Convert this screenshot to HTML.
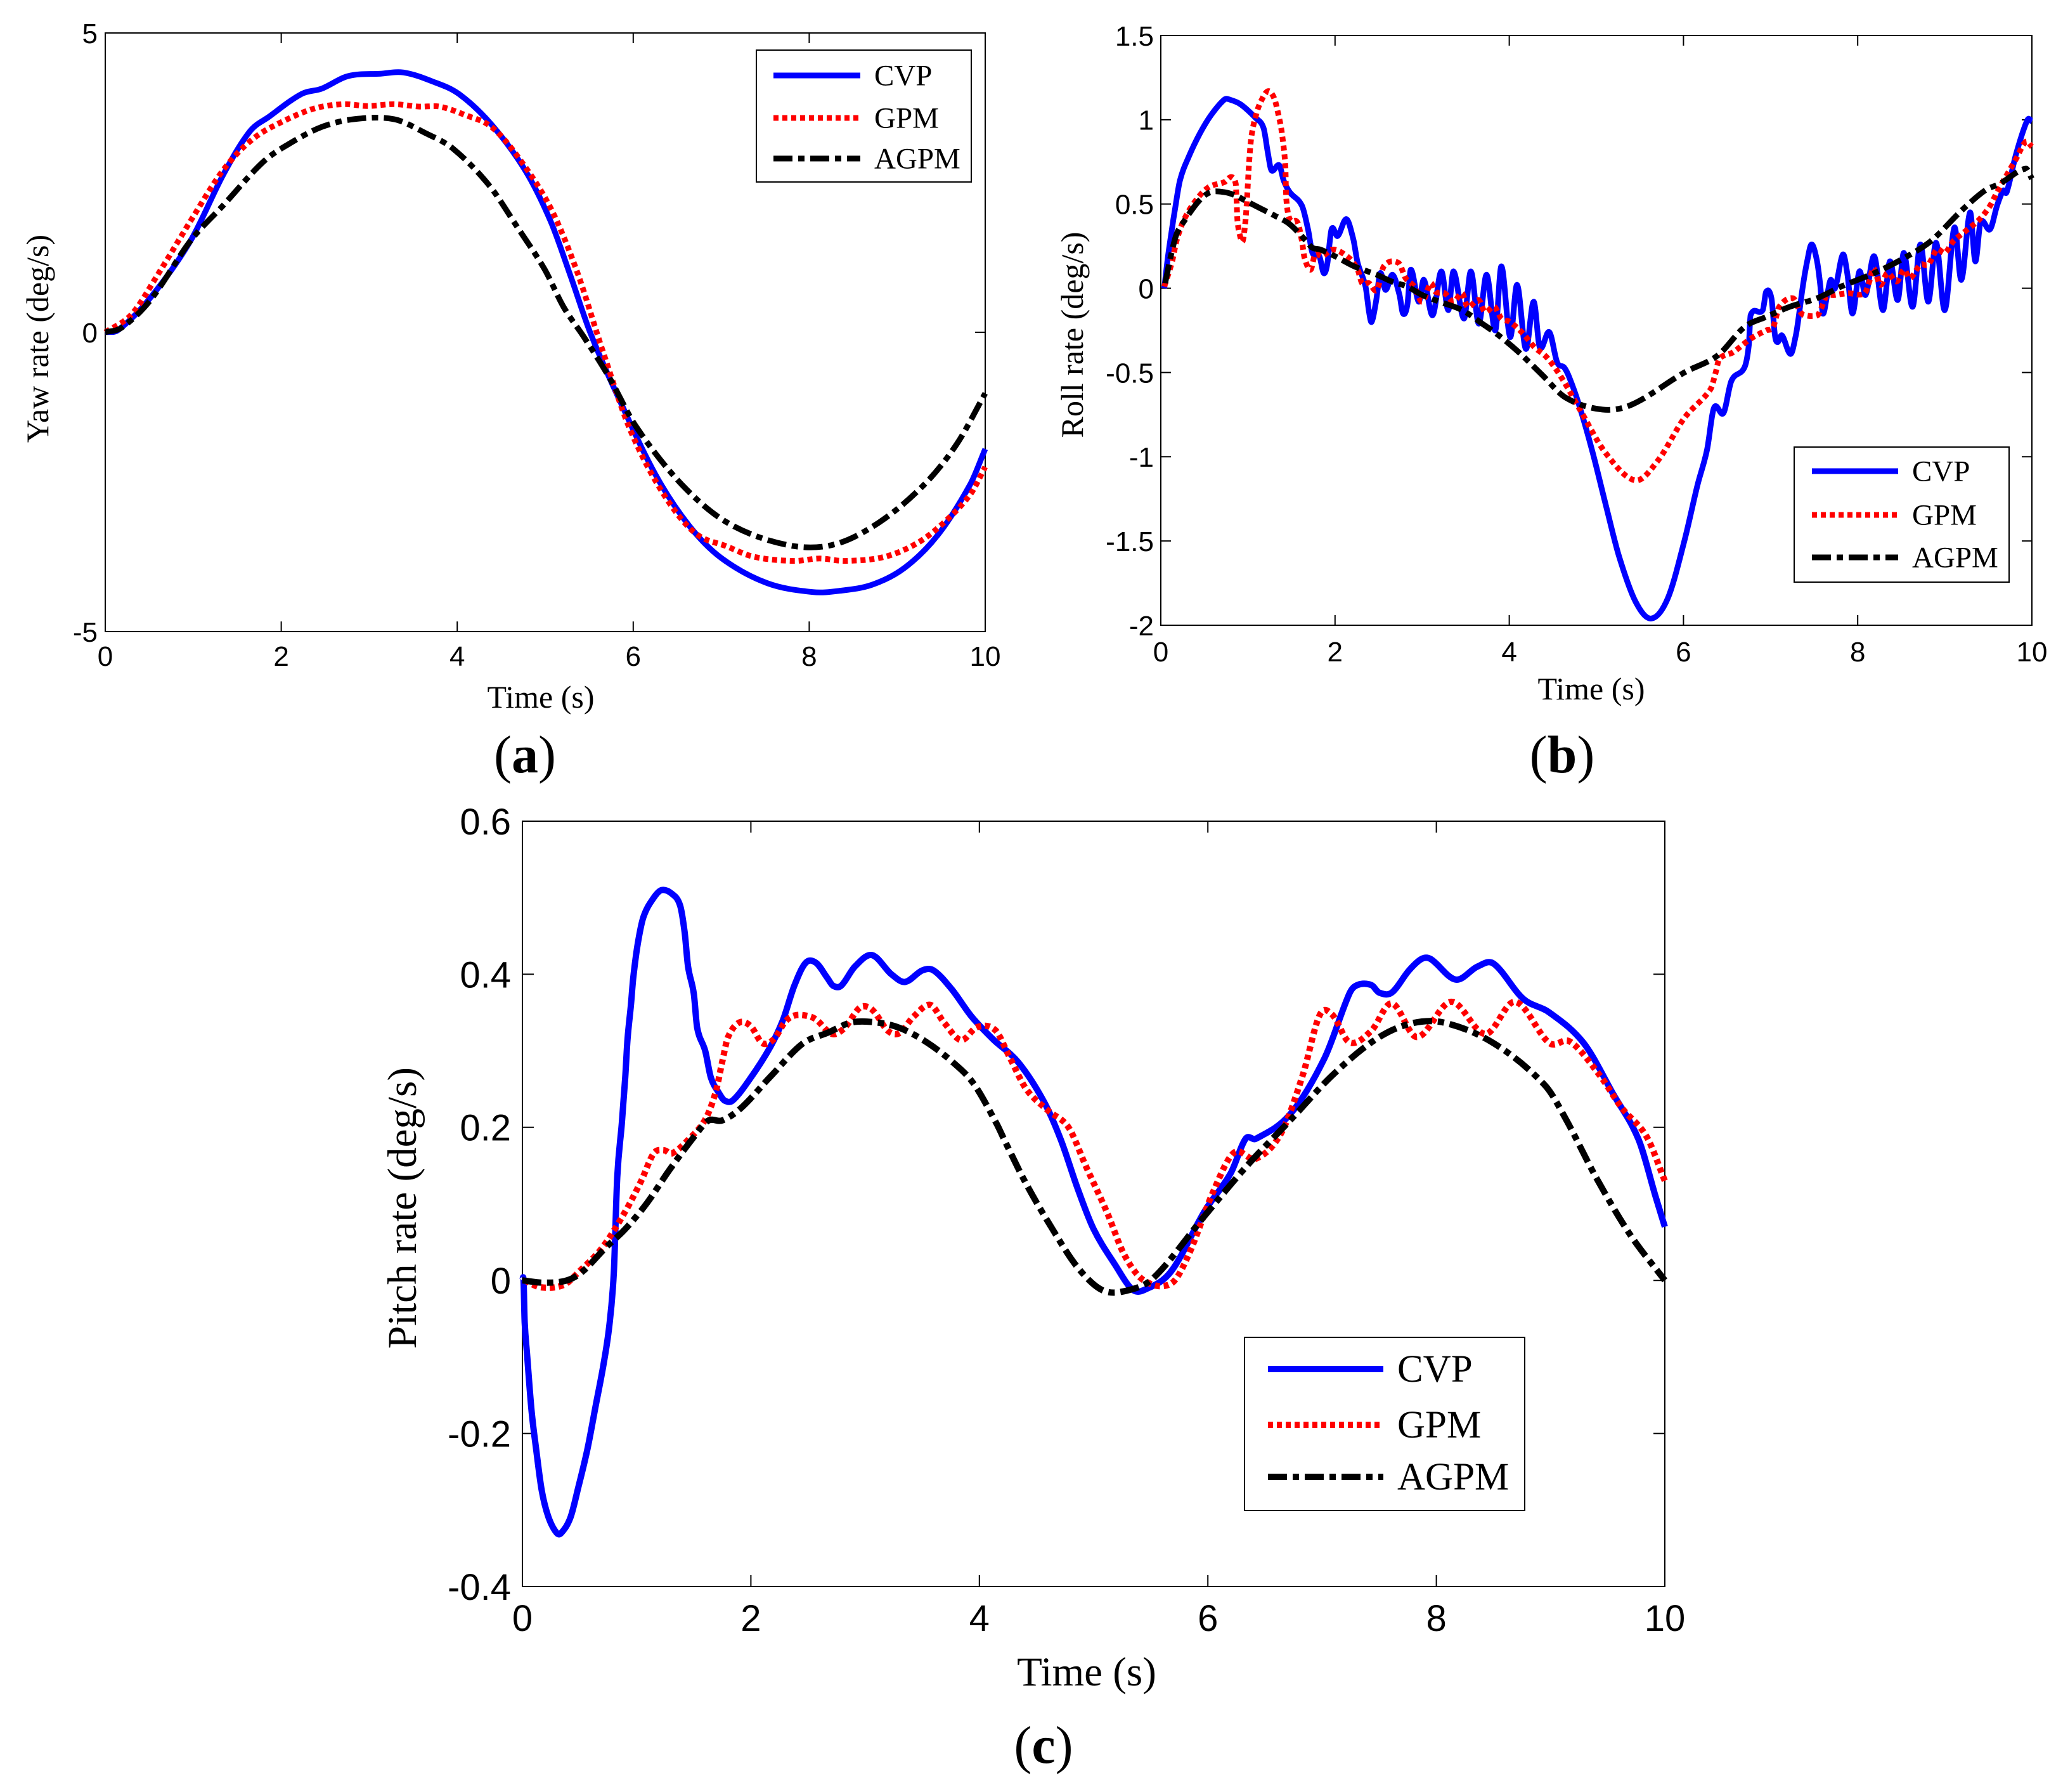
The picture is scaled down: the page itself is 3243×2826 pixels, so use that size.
<!DOCTYPE html>
<html lang="en">
<head>
<meta charset="utf-8">
<title>Yaw, roll and pitch rate comparison</title>
<style>
html,body{margin:0;padding:0;background:#fff;}
svg{display:block;}
text{fill:#000;}
</style>
</head>
<body>
<svg id="figure" xmlns="http://www.w3.org/2000/svg" width="3243" height="2826" viewBox="0 0 3243 2826"></svg>
<script>
const xTicks = [0, 2, 4, 6, 8, 10];
const yTicksA = [-5, 0, 5];
const yTickLabelsA = ['-5', '0', '5'];
const yTicksB = [-2, -1.5, -1, -0.5, 0, 0.5, 1, 1.5];
const yTickLabelsB = ['-2', '-1.5', '-1', '-0.5', '0', '0.5', '1', '1.5'];
const yTicksC = [-0.4, -0.2, 0, 0.2, 0.4, 0.6];
const yTickLabelsC = ['-0.4', '-0.2', '0', '0.2', '0.4', '0.6'];
const seriesNames = ['CVP', 'GPM', 'AGPM'];

const aCvpT = [0,.15,.52,.97,1.34,1.64,1.86,2.23,2.46,2.76,3.13,3.39,3.72,4.02,4.39,4.77,5.06,5.29,5.51,5.81,6.25,6.63,7.0,7.52,8.04,8.34,8.71,9.08,9.46,9.83,10];
const aCvpV = [0,.04,.59,1.53,2.63,3.35,3.6,3.98,4.07,4.28,4.32,4.34,4.19,3.98,3.47,2.71,1.86,.93,0,-1.02,-2.37,-3.22,-3.77,-4.19,-4.34,-4.32,-4.22,-3.94,-3.39,-2.54,-1.95];
const aGpmT = [0,.30,.60,.97,1.34,1.67,2.0,2.38,2.71,2.98,3.28,3.57,3.8,4.09,4.39,4.69,5.06,5.36,5.66,5.96,6.33,6.7,7.07,7.37,7.82,8.12,8.41,8.86,9.23,9.53,9.83,10];
const aGpmV = [0,.30,.97,1.86,2.71,3.22,3.51,3.74,3.81,3.78,3.81,3.77,3.77,3.63,3.43,2.93,2.08,1.02,-.34,-1.61,-2.67,-3.35,-3.58,-3.75,-3.82,-3.78,-3.82,-3.75,-3.52,-3.18,-2.71,-2.25];
const aAgpmT = [0,.19,.52,.97,1.34,1.79,2.08,2.46,2.83,3.28,3.65,3.95,4.36,4.69,4.99,5.21,5.44,5.73,6.03,6.55,7.07,7.74,8.27,8.79,9.31,9.68,10];
const aAgpmV = [0,.08,.55,1.53,2.12,2.84,3.14,3.43,3.56,3.56,3.32,3.07,2.46,1.74,1.06,.42,-.08,-.76,-1.57,-2.54,-3.18,-3.55,-3.55,-3.18,-2.54,-1.86,-1.02];

const bCvpT = [.04,.08,.13,.16,.22,.32,.45,.58,.73,.79,.92,1.09,1.18,1.23,1.27,1.36,1.41,1.48,1.62,1.69,1.74,1.82,1.87,1.91,1.96,2.03,2.13,2.21,2.26,2.35,2.39,2.42,2.47,2.52,2.58,2.66,2.74,2.78,2.83,2.87,2.96,3.02,3.12,3.22,3.30,3.36,3.48,3.56,3.65,3.74,3.84,3.91,4.01,4.09,4.19,4.28,4.35,4.46,4.55,4.63,4.69,4.80,4.95,5.11,5.26,5.45,5.63,5.82,6.01,6.16,6.27,6.35,6.46,6.55,6.70,6.75,6.77,6.91,6.95,7.01,7.05,7.08,7.13,7.23,7.29,7.32,7.37,7.42,7.47,7.53,7.57,7.60,7.65,7.69,7.74,7.83,7.88,7.94,8.02,8.09,8.19,8.29,8.37,8.46,8.53,8.63,8.72,8.81,8.90,9.0,9.11,9.19,9.29,9.35,9.41,9.52,9.60,9.67,9.71,9.82,9.95,10];
const bCvpV = [0,.18,.36,.46,.64,.78,.92,1.03,1.12,1.12,1.09,1.01,.95,.80,.70,.73,.64,.57,.49,.35,.21,.19,.09,.14,.35,.31,.41,.29,.15,.01,-.14,-.20,-.08,.09,-.01,.08,-.04,-.15,-.10,.11,-.08,.05,-.16,.10,-.13,.10,-.18,.10,-.21,.08,-.25,.13,-.29,.02,-.36,-.08,-.35,-.26,-.44,-.47,-.53,-.69,-.96,-1.29,-1.59,-1.86,-1.96,-1.84,-1.5,-1.17,-.96,-.71,-.74,-.55,-.47,-.34,-.16,-.13,-.02,-.06,-.28,-.32,-.28,-.39,-.28,-.18,.01,.16,.26,.17,.02,-.15,-.04,.05,0,.2,.09,-.15,.10,-.04,.19,-.13,.16,-.07,.21,-.11,.26,-.08,.27,-.13,.36,.05,.45,.16,.39,.35,.49,.58,.57,.8,1.0,.99];
const bGpmT = [.04,.13,.18,.26,.40,.55,.73,.81,.86,.87,.88,.91,.94,.97,.99,1.01,1.04,1.10,1.15,1.23,1.30,1.35,1.39,1.43,1.44,1.48,1.57,1.62,1.65,1.72,1.77,1.85,1.98,2.16,2.26,2.31,2.39,2.48,2.56,2.73,2.81,2.91,3.0,3.1,3.15,3.26,3.36,3.46,3.52,3.65,3.72,3.83,3.91,4.01,4.16,4.29,4.43,4.6,4.80,5.11,5.45,5.71,6.01,6.31,6.37,6.41,6.57,6.77,6.95,7.03,7.10,7.26,7.34,7.39,7.54,7.58,7.64,7.74,7.89,8.08,8.14,8.18,8.26,8.34,8.45,8.53,8.6,8.72,8.81,8.91,9.0,9.1,9.24,9.4,9.52,9.6,9.82,9.93,10];
const bGpmV = [.01,.16,.28,.40,.52,.60,.63,.66,.62,.52,.40,.31,.28,.39,.53,.72,.90,1.04,1.11,1.17,1.13,1.03,.92,.72,.53,.41,.39,.28,.18,.11,.20,.19,.23,.18,.11,.03,.03,-.01,.13,.15,.06,.01,-.08,.03,-.02,-.03,-.08,-.03,-.11,-.07,-.14,-.11,-.18,-.2,-.27,-.35,-.41,-.53,-.71,-.98,-1.14,-1.02,-.77,-.6,-.50,-.42,-.38,-.30,-.25,-.23,-.11,-.06,-.14,-.16,-.16,-.12,-.05,-.04,-.03,-.03,.05,.12,.02,.09,.04,.11,.06,.14,.14,.23,.21,.28,.34,.41,.49,.57,.77,.87,.84];
const bAgpmT = [.05,.11,.18,.27,.44,.57,.73,.86,.97,1.12,1.31,1.48,1.67,1.74,1.83,2.0,2.22,2.48,2.65,2.83,3.0,3.2,3.46,3.69,3.88,4.11,4.37,4.65,5.07,5.41,6.01,6.39,6.70,6.95,7.22,7.53,7.81,8.19,8.5,8.84,9.19,9.46,9.63,9.93,10];
const bAgpmV = [.03,.18,.32,.40,.52,.57,.57,.55,.52,.48,.43,.38,.28,.24,.23,.19,.13,.08,.04,.01,-.04,-.08,-.13,-.21,-.28,-.38,-.51,-.65,-.72,-.69,-.50,-.40,-.23,-.17,-.11,-.06,.01,.09,.17,.28,.46,.58,.62,.71,.65];

const cCvpT = [0,.01,.02,.04,.08,.12,.17,.23,.30,.34,.42,.49,.57,.64,.71,.76,.80,.83,.87,.90,.92,.95,.97,1.01,1.06,1.15,1.22,1.31,1.38,1.42,1.45,1.50,1.53,1.60,1.65,1.72,1.77,1.84,2.0,2.17,2.28,2.38,2.48,2.57,2.67,2.72,2.79,2.91,3.06,3.23,3.35,3.5,3.6,3.76,3.93,4.12,4.34,4.56,4.71,4.86,5.0,5.19,5.34,5.45,5.68,5.97,6.2,6.33,6.42,6.72,7.02,7.24,7.31,7.43,7.5,7.61,7.76,7.87,7.95,8.17,8.36,8.5,8.76,8.99,9.29,9.55,9.77,9.92,10];
const cCvpV = [0,0,-.055,-.095,-.17,-.22,-.275,-.31,-.33,-.33,-.31,-.27,-.22,-.165,-.11,-.06,.01,.135,.205,.265,.315,.36,.395,.44,.475,.50,.51,.505,.49,.455,.41,.375,.33,.30,.265,.245,.235,.235,.265,.305,.34,.385,.415,.415,.395,.385,.385,.41,.425,.40,.39,.405,.405,.38,.345,.315,.285,.235,.185,.12,.067,.02,-.012,-.012,.012,.09,.14,.185,.185,.217,.29,.375,.386,.386,.376,.376,.405,.42,.42,.393,.41,.414,.368,.35,.31,.243,.184,.109,.07];
const cGpmT = [.02,.16,.36,.5,.7,.9,1.04,1.15,1.24,1.31,1.46,1.6,1.69,1.75,1.8,1.9,2.0,2.1,2.2,2.3,2.38,2.48,2.57,2.71,2.82,2.95,3.03,3.09,3.2,3.3,3.42,3.57,3.69,3.84,3.98,4.14,4.26,4.41,4.6,4.78,4.93,5.12,5.27,5.44,5.68,5.83,6.05,6.23,6.42,6.64,6.83,6.98,7.09,7.24,7.43,7.61,7.83,8.13,8.43,8.69,8.99,9.17,9.43,9.62,9.84,10];
const cGpmV = [0,-.009,-.006,.012,.043,.09,.13,.166,.17,.166,.185,.21,.245,.286,.318,.337,.332,.31,.315,.338,.346,.346,.341,.322,.33,.356,.357,.349,.326,.323,.344,.36,.337,.314,.331,.327,.293,.25,.222,.2,.15,.088,.033,0,-.004,.033,.117,.167,.159,.192,.268,.347,.347,.311,.326,.362,.318,.364,.322,.364,.31,.312,.268,.226,.188,.13];
const cAgpmT = [0,.19,.39,.53,.73,.9,1.09,1.29,1.52,1.63,1.75,1.92,2.17,2.45,2.68,2.88,3.1,3.3,3.53,3.76,3.95,4.15,4.23,4.41,4.64,4.86,5.08,5.3,5.53,5.97,6.35,6.72,7.09,7.46,7.76,8.06,8.5,8.95,9.14,9.4,9.7,10];
const cAgpmV = [0,-.003,0,.012,.043,.067,.101,.145,.191,.209,.209,.226,.266,.309,.324,.337,.337,.33,.312,.286,.257,.205,.18,.126,.067,.017,-.013,-.013,.004,.084,.151,.209,.268,.314,.335,.337,.31,.255,.209,.134,.059,0];

const NS = 'http://www.w3.org/2000/svg';
const fig = document.getElementById('figure');
const SANS = '"Liberation Sans", Arial, sans-serif';
const SERIF = '"Liberation Serif", "Times New Roman", serif';
const lineStyles = [
  {color: '#0000ff', dash: ''},
  {color: '#ff0000', dash: '8 6'},
  {color: '#000000', dash: '30 9 10 9'}
];

function svgEl(tag, parent) {
  const el = document.createElementNS(NS, tag);
  parent.appendChild(el);
  return el;
}

function addText(parent, str, x, y, size, family, anchor) {
  const t = svgEl('text', parent);
  t.setAttribute('x', x);
  t.setAttribute('y', y);
  t.setAttribute('font-size', size);
  t.setAttribute('font-family', family);
  t.setAttribute('text-anchor', anchor);
  t.textContent = str;
  return t;
}

function addSegment(parent, x1, y1, x2, y2, w) {
  const l = svgEl('line', parent);
  l.setAttribute('x1', x1);
  l.setAttribute('y1', y1);
  l.setAttribute('x2', x2);
  l.setAttribute('y2', y2);
  l.setAttribute('stroke', '#000');
  l.setAttribute('stroke-width', w);
  return l;
}

function curvePath(ts, vs, sx, sy) {
  let d = 'M' + sx(ts[0]).toFixed(1) + ' ' + sy(vs[0]).toFixed(1);
  const slope = i => {
    const a = Math.max(i - 1, 0);
    const b = Math.min(i + 1, ts.length - 1);
    return (vs[b] - vs[a]) / (ts[b] - ts[a]);
  };
  for (let i = 0; i < ts.length - 1; i++) {
    const dt = ts[i + 1] - ts[i];
    const c1t = ts[i] + dt / 3;
    const c1v = vs[i] + slope(i) * dt / 3;
    const c2t = ts[i + 1] - dt / 3;
    const c2v = vs[i + 1] - slope(i + 1) * dt / 3;
    d += 'C' + sx(c1t).toFixed(1) + ' ' + sy(c1v).toFixed(1) + ' ' + sx(c2t).toFixed(1) + ' ' + sy(c2v).toFixed(1) + ' ' + sx(ts[i + 1]).toFixed(1) + ' ' + sy(vs[i + 1]).toFixed(1);
  }
  return d;
}

function drawPanel(cfg) {
  const g = svgEl('g', fig);
  
  
  const sx = t => cfg.left + (t - 0) / (10 - 0) * (cfg.right - cfg.left);
  const sy = v => cfg.bottom - (v - cfg.ymin) / (cfg.ymax - cfg.ymin) * (cfg.bottom - cfg.top);

  const frame = svgEl('rect', g);
  
  
  frame.setAttribute('x', cfg.left);
  frame.setAttribute('y', cfg.top);
  frame.setAttribute('width', cfg.right - cfg.left);
  frame.setAttribute('height', cfg.bottom - cfg.top);
  frame.setAttribute('fill', '#fff');
  frame.setAttribute('stroke', '#000');
  frame.setAttribute('stroke-width', 2);

  xTicks.forEach(t => {
    const x = sx(t);
    const tickB = addSegment(g, x, cfg.bottom, x, cfg.bottom - cfg.tick, 2);
    
    
    const tickT = addSegment(g, x, cfg.top, x, cfg.top + cfg.tick, 2);
    
    
    const lab = addText(g, String(t), x, cfg.xLabelY, cfg.tickSize, SANS, 'middle');
    
    
  });

  cfg.yTicks.forEach((v, i) => {
    const y = sy(v);
    const tickL = addSegment(g, cfg.left, y, cfg.left + cfg.tick, y, 2);
    
    
    const tickR = addSegment(g, cfg.right, y, cfg.right - cfg.tick, y, 2);
    
    
    const lab = addText(g, cfg.yLabels[i], cfg.yLabelX, y + cfg.tickSize * 0.36, cfg.tickSize, SANS, 'end');
    
    
  });

  cfg.series.forEach((s, i) => {
    const p = svgEl('path', g);
    
    
    p.setAttribute('d', curvePath(s.t, s.v, sx, sy));
    p.setAttribute('fill', 'none');
    p.setAttribute('stroke', lineStyles[i].color);
    p.setAttribute('stroke-width', cfg.lineWidth);
    p.setAttribute('stroke-linejoin', 'round');
    if (lineStyles[i].dash) p.setAttribute('stroke-dasharray', lineStyles[i].dash);
  });

  const xt = addText(g, 'Time (s)', cfg.xTitleX, cfg.xTitleY, cfg.titleSize, SERIF, 'middle');
  
  

  const yt = addText(g, cfg.yTitle, 0, 0, cfg.titleSize, SERIF, 'middle');
  
  
  yt.setAttribute('transform', 'translate(' + cfg.yTitleX + ',' + cfg.yTitleY + ') rotate(-90)');

  const lg = svgEl('g', g);
  
  
  const box = svgEl('rect', lg);
  
  
  box.setAttribute('x', cfg.legend.x);
  box.setAttribute('y', cfg.legend.y);
  box.setAttribute('width', cfg.legend.w);
  box.setAttribute('height', cfg.legend.h);
  box.setAttribute('fill', '#fff');
  box.setAttribute('stroke', '#000');
  box.setAttribute('stroke-width', 2);
  seriesNames.forEach((name, i) => {
    const ly = cfg.legend.rows[i];
    const sample = svgEl('line', lg);
    
    
    sample.setAttribute('x1', cfg.legend.lx1);
    sample.setAttribute('x2', cfg.legend.lx2);
    sample.setAttribute('y1', ly);
    sample.setAttribute('y2', ly);
    sample.setAttribute('stroke', lineStyles[i].color);
    sample.setAttribute('stroke-width', cfg.lineWidth);
    if (lineStyles[i].dash) sample.setAttribute('stroke-dasharray', lineStyles[i].dash);
    const txt = addText(lg, name, cfg.legend.tx, ly + cfg.legend.size * 0.33, cfg.legend.size, SERIF, 'start');
    
    
  });

  const cap = svgEl('text', g);
  
  
  cap.setAttribute('x', cfg.capX);
  cap.setAttribute('y', cfg.capY);
  cap.setAttribute('font-size', cfg.capSize);
  cap.setAttribute('font-family', SERIF);
  cap.setAttribute('text-anchor', 'middle');
  const s1 = svgEl('tspan', cap);
  s1.textContent = '(';
  const s2 = svgEl('tspan', cap);
  s2.setAttribute('font-weight', 'bold');
  s2.textContent = cfg.letter;
  const s3 = svgEl('tspan', cap);
  s3.textContent = ')';
}

drawPanel({
  id: 'yaw', letter: 'a', left: 166, right: 1554, top: 52, bottom: 996, ymin: -5, ymax: 5, tick: 16, lineWidth: 9,
  yTicks: yTicksA, yLabels: yTickLabelsA, tickSize: 44, titleSize: 50,
  xLabelY: 1050, yLabelX: 154, xTitleX: 853, xTitleY: 1116, yTitle: 'Yaw rate (deg/s)', yTitleX: 76, yTitleY: 534,
  series: [{t: aCvpT, v: aCvpV}, {t: aGpmT, v: aGpmV}, {t: aAgpmT, v: aAgpmV}],
  legend: {x: 1193, y: 79, w: 339, h: 208, lx1: 1220, lx2: 1357, tx: 1379, size: 47, rows: [119, 186, 250]},
  capX: 828, capY: 1218, capSize: 84
});

drawPanel({
  id: 'roll', letter: 'b', left: 1831, right: 3205, top: 56, bottom: 986, ymin: -2, ymax: 1.5, tick: 16, lineWidth: 9,
  yTicks: yTicksB, yLabels: yTickLabelsB, tickSize: 44, titleSize: 50,
  xLabelY: 1043, yLabelX: 1820, xTitleX: 2510, xTitleY: 1103, yTitle: 'Roll rate (deg/s)', yTitleX: 1708, yTitleY: 528,
  series: [{t: bCvpT, v: bCvpV}, {t: bGpmT, v: bGpmV}, {t: bAgpmT, v: bAgpmV}],
  legend: {x: 2830, y: 705, w: 339, h: 213, lx1: 2858, lx2: 2994, tx: 3016, size: 47, rows: [743, 812, 879]},
  capX: 2464, capY: 1218, capSize: 84
});

drawPanel({
  id: 'pitch', letter: 'c', left: 824, right: 2626, top: 1295, bottom: 2502, ymin: -0.4, ymax: 0.6, tick: 18, lineWidth: 10,
  yTicks: yTicksC, yLabels: yTickLabelsC, tickSize: 58, titleSize: 65,
  xLabelY: 2572, yLabelX: 806, xTitleX: 1714, xTitleY: 2658, yTitle: 'Pitch rate (deg/s)', yTitleX: 656, yTitleY: 1905,
  series: [{t: cCvpT, v: cCvpV}, {t: cGpmT, v: cGpmV}, {t: cAgpmT, v: cAgpmV}],
  legend: {x: 1963, y: 2109, w: 442, h: 273, lx1: 2000, lx2: 2182, tx: 2204, size: 61, rows: [2159, 2247, 2329]},
  capX: 1646, capY: 2780, capSize: 84
});
</script>
</body>
</html>
